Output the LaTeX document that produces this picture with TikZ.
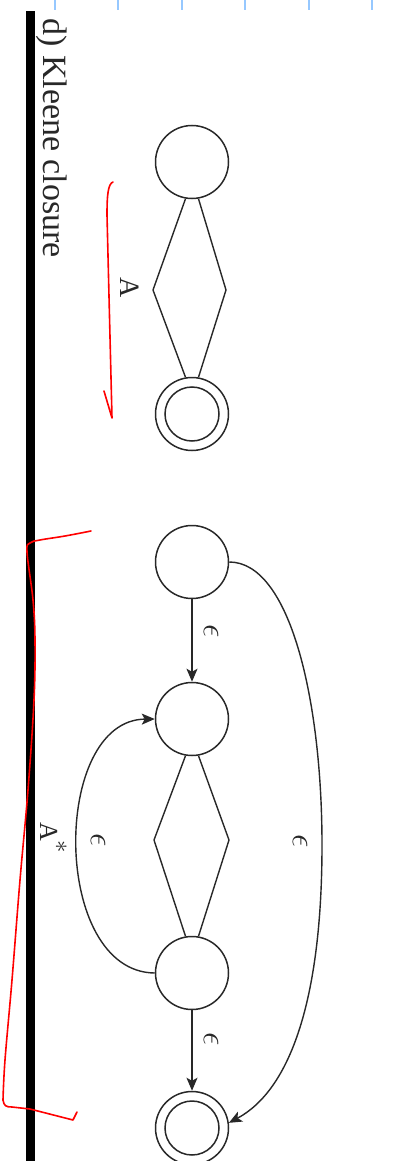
\documentclass[tikz,border=0pt]{standalone}
\usepackage{fontspec}
\setmainfont{Liberation Serif}
\usetikzlibrary{arrows.meta}
\definecolor{ink}{RGB}{40,40,40}
\definecolor{tickblue}{RGB}{150,200,255}
\newcommand{\bigeps}{\scalebox{1.35}{\fontsize{24}{26}\selectfont$\epsilon$}}
\begin{document}
\begin{tikzpicture}[x=1pt,y=-1pt,
  st/.style={circle,draw=ink,line width=1.5pt,minimum size=73pt,inner sep=0pt},
  innerring/.style={circle,draw=ink,line width=1.5pt,minimum size=54pt,inner sep=0pt},
  edge/.style={draw=ink,line width=1.4pt},
  arr/.style={edge,-{Stealth[length=13pt,width=11pt,inset=3pt]}},
  lbl/.style={rotate=-90,inner sep=0pt,text=ink},
  eps/.style={lbl},
  redpen/.style={draw=red,line width=1.6pt,line cap=round,line join=round},
  tickmark/.style={draw=tickblue,line width=1.5pt}]
\useasboundingbox (0,0) rectangle (412,1161);
\clip (0,0) rectangle (412,1161);
\fill[white] (0,0) rectangle (412,1161);

% blue ruler ticks
\foreach \x in {55,118,182,245,309,372} \draw[tickmark] (\x,0) -- (\x,10);

% black bar
\fill[black] (26,11) rectangle (34.5,1161);

% title
\node[lbl,anchor=base west,font=\fontsize{34}{37}\selectfont] (title) at (43,18) {d) Kleene closure};

% ---- automaton for A ----
\node[st] (s1) at (192,162) {};
\node[st] (f1) at (192,414) {};
\node[innerring] (f1in) at (192,414) {};
\coordinate (dl1) at (153,290);
\coordinate (dr1) at (226,290);
\draw[edge,line join=round] (s1.-100) -- (dl1) -- (f1.100);
\draw[edge,line join=round] (s1.-80) -- (dr1) -- (f1.80);
\node[lbl,anchor=base,font=\fontsize{28}{30}\selectfont] (lA) at (120,288) {A};

% ---- automaton for A* ----
\node[st] (c1) at (192,562) {};
\node[st] (c2) at (192,719) {};
\node[st] (c3) at (192,973) {};
\node[st] (f2) at (192,1128) {};
\node[innerring] (f2in) at (192,1128) {};
\coordinate (dl2) at (154,840);
\coordinate (dr2) at (229,840);
\draw[edge,line join=round] (c2.-100) -- (dl2) -- (c3.100);
\draw[edge,line join=round] (c2.-80) -- (dr2) -- (c3.80);

\draw[arr] (c1) -- (c2);
\draw[arr] (c3) -- (f2);
\draw[arr] (c3.west) .. controls (51,972) and (51,720) .. (c2.west);
\coordinate (outer) at (322,845);
\draw[arr] (c1.east) .. controls (290,562) and (322,700) .. (outer)
  .. controls (322,1000) and (290,1090) .. (f2.8);

\node[eps] (e1) at (211,631) {\bigeps};
\node[eps] (e2) at (98,840) {\bigeps};
\node[eps] (e3) at (300,841) {\bigeps};
\node[eps] (e4) at (211,1039) {\bigeps};
\node[lbl,anchor=base west,font=\fontsize{26}{28}\selectfont] (lAs) at (40,822)
  {A\raisebox{15pt}{\fontsize{24}{24}\selectfont$\ast$}};

% ---- red annotations ----
\draw[redpen] (113,182) .. controls (108,184) and (107,195) .. (107,215)
  -- (112,418) -- (104,391);
\draw[redpen] plot[smooth,tension=0.6] coordinates {(91,531) (65,536) (40,540) (30,543) (27,552) (33,600) (35,640) (34,700) (28,790) (20,880) (12,980) (5,1060) (3,1100)};
\draw[redpen] (3,1100) .. controls (4,1106) and (6,1107) .. (12,1107)
  -- (30,1109) -- (73,1120) -- (77,1112);
\end{tikzpicture}
\end{document}
